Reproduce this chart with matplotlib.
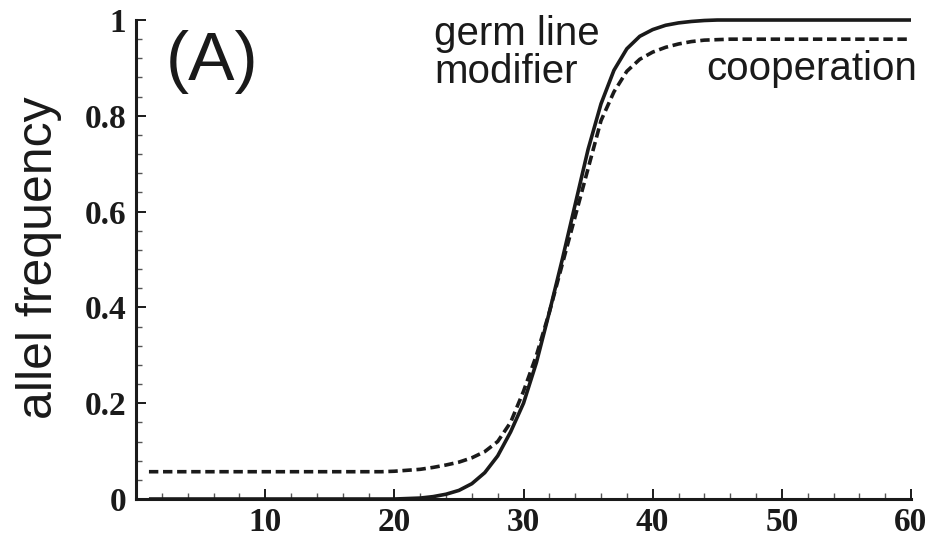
import numpy as np
import matplotlib
matplotlib.use("Agg")
import matplotlib.pyplot as plt
from matplotlib.ticker import MultipleLocator, FixedLocator

# generation number
gen = np.arange(1, 61)

# germ line modifier allele frequency (solid)
germ = [0.0] * 20 + [0.001, 0.002, 0.005, 0.010, 0.018, 0.032, 0.055, 0.09, 0.14, 0.20,
                     0.285, 0.39, 0.50, 0.615, 0.73, 0.825, 0.895, 0.94, 0.966, 0.98,
                     0.989, 0.994, 0.997, 0.999] + [1.0] * 16

# cooperation allele frequency (dashed)
coop = [0.057] * 19 + [0.058, 0.060, 0.062, 0.066, 0.071, 0.077, 0.086, 0.099, 0.12, 0.16,
                       0.225, 0.30, 0.39, 0.49, 0.59, 0.69, 0.79, 0.85, 0.893, 0.918,
                       0.933, 0.943, 0.950, 0.955, 0.958, 0.959] + [0.96] * 15

xticks = [10, 20, 30, 40, 50, 60]
yticks = [0, 0.2, 0.4, 0.6, 0.8, 1]
ytick_labels = ["0", "0.2", "0.4", "0.6", "0.8", "1"]

fig = plt.figure(figsize=(9.26, 5.41), dpi=100)
ax = fig.add_axes([0.1469, 0.0776, 0.8369, 0.8854])

ax.plot(gen, germ, color="#1a1a1a", lw=2.6, clip_on=False, solid_capstyle="butt")
ax.plot(gen, coop, color="#1a1a1a", lw=2.6, ls=(0, (2.6, 1.3)), clip_on=False)

ax.set_xlim(0, 60)
ax.set_ylim(0, 1)

for s in ["top", "right"]:
    ax.spines[s].set_visible(False)
for s in ["left", "bottom"]:
    ax.spines[s].set_linewidth(2.2)
    ax.spines[s].set_color("#1a1a1a")

ax.xaxis.set_major_locator(FixedLocator(xticks))
ax.xaxis.set_minor_locator(MultipleLocator(2))
ax.yaxis.set_major_locator(FixedLocator(yticks))
ax.yaxis.set_minor_locator(MultipleLocator(0.04))
ax.set_yticklabels(ytick_labels)

ax.tick_params(which="major", direction="in", length=7, width=1.4, color="#1a1a1a")
ax.tick_params(which="minor", direction="in", length=4, width=1.0, color="#555555")
ax.tick_params(axis="x", which="major", pad=6)
ax.tick_params(axis="y", which="major", pad=7)

for lab in ax.get_xticklabels() + ax.get_yticklabels():
    lab.set_fontfamily("Liberation Serif")
    lab.set_fontweight("bold")
    lab.set_fontsize(24)
    lab.set_color("#1a1a1a")

fig.text(0.042, 0.523, "allel frequency", rotation=90, ha="center", va="center",
         fontsize=36, family="Liberation Sans", color="#1a1a1a")

ax.text(2.3, 0.912, "(A)", ha="left", va="center", fontsize=50,
        family="Liberation Sans", color="#1a1a1a")
ax.text(23.1, 0.931, "germ line\nmodifier", ha="left", va="center", fontsize=29,
        family="Liberation Sans", color="#1a1a1a", linespacing=1.0)
ax.text(60.5, 0.897, "cooperation", ha="right", va="center", fontsize=29,
        family="Liberation Sans", color="#1a1a1a")

fig.savefig("out.png", dpi=100)
